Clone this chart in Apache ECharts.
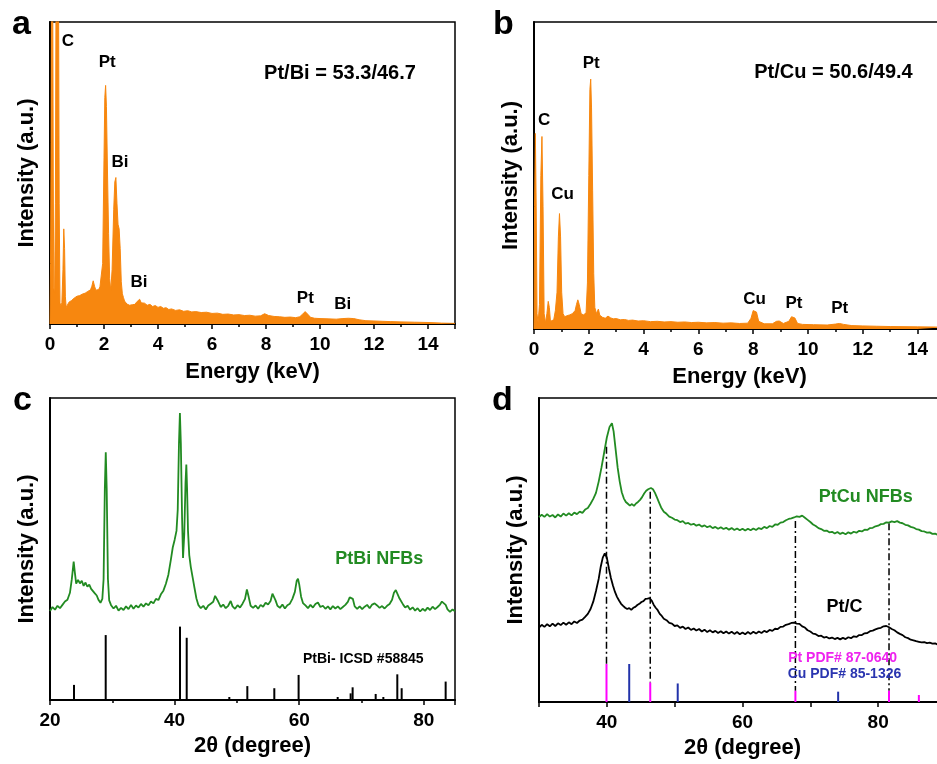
<!DOCTYPE html>
<html><head><meta charset="utf-8">
<script src="https://cdn.jsdelivr.net/npm/echarts@6/dist/echarts.min.js"></script>
<style>html,body{margin:0;padding:0;background:#fff}#c{width:937px;height:764px}</style>
</head><body><div id="c"></div>
<script>
// ---------- Panel a: EDS of PtBi NFBs  [keV, intensity(0-100)] ----------
const edsPtBi = [
[0.00,0],[0.02,20],[0.04,60],[0.06,130],[0.09,140],[0.12,50],[0.14,12],[0.17,10],[0.20,40],[0.23,130],[0.27,150],[0.31,130],
[0.34,40],[0.37,7],[0.40,6],[0.44,7],[0.48,18],[0.51,31.5],[0.54,25],[0.57,9],[0.60,5.5],[0.64,6],[0.70,7.2],[0.75,6.6],
[0.80,7.8],[0.85,7.4],[0.90,8.6],[0.95,8.1],[1.00,9.2],[1.05,8.6],[1.10,9.4],[1.15,9.0],[1.20,9.9],[1.25,9.5],[1.30,10.2],
[1.35,9.8],[1.40,10.8],[1.45,10.4],[1.50,11.3],[1.55,12.5],[1.60,14.3],[1.65,12.5],[1.70,11.2],[1.75,11.8],[1.80,11.4],
[1.85,12.3],[1.90,12.8],[1.95,20],[2.00,55],[2.03,75],[2.06,79],[2.09,72],[2.13,50],[2.17,30],[2.21,15],[2.25,11],
[2.30,18],[2.36,38],[2.40,47],[2.44,48.5],[2.48,40],[2.52,33],[2.56,31.5],[2.60,25],[2.64,14],[2.68,10],[2.72,8.8],
[2.76,7.6],[2.80,8.2],[2.85,6.6],[2.90,7.0],[2.95,6.2],[3.00,6.8],[3.05,6.4],[3.10,7.0],[3.15,6.5],[3.20,7.2],[3.25,7.4],
[3.32,8.2],[3.38,7.0],[3.45,6.6],[3.50,6.9],[3.60,6.2],[3.70,6.5],[3.80,5.8],[3.90,6.1],[4.00,5.5],[4.10,5.8],[4.20,5.2],
[4.30,5.4],[4.40,4.8],[4.50,5.0],[4.65,4.5],[4.80,4.7],[4.95,4.2],[5.10,4.4],[5.25,4.0],[5.40,4.1],[5.60,3.8],[5.80,3.9],
[6.00,3.5],[6.20,3.6],[6.40,3.2],[6.60,3.3],[6.80,3.0],[7.00,3.1],[7.20,2.8],[7.40,2.9],[7.60,2.6],[7.80,2.7],[7.95,3.4],
[8.02,3.6],[8.10,2.8],[8.30,2.5],[8.50,2.4],[8.70,2.2],[8.90,2.3],[9.10,2.1],[9.25,2.4],[9.35,3.2],[9.45,4.1],[9.55,3.2],
[9.65,2.2],[9.80,1.9],[10.00,1.8],[10.30,1.7],[10.60,1.6],[10.85,1.8],[11.05,1.9],[11.25,1.8],[11.45,1.4],[11.70,1.1],
[12.00,1.0],[12.30,0.9],[12.60,0.8],[13.00,0.7],[13.50,0.6],[14.00,0.5],[14.50,0.3],[15.00,0.2]
];
const labelsA = [[0.667,93.6,'C'],[2.12,86.6,'Pt'],[2.593,53.6,'Bi'],[3.296,13.9,'Bi'],[9.456,8.4,'Pt'],[10.84,6.6,'Bi']];
const ratioA = [10.74,83.1,'Pt/Bi = 53.3/46.7'];

// ---------- Panel b: EDS of PtCu NFBs ----------
const edsPtCu = [
[0.00,0],[0.02,40],[0.05,63.7],[0.08,40],[0.11,5],[0.15,2],[0.20,8],[0.25,50],[0.29,62.7],[0.33,40],[0.37,5],[0.42,2],
[0.47,5],[0.52,9],[0.56,7],[0.60,2.5],[0.66,2],[0.72,3],[0.78,6],[0.84,12],[0.89,30],[0.93,37.6],[0.97,30],[1.01,12],
[1.06,5],[1.12,4],[1.20,4.3],[1.30,4.6],[1.40,5],[1.50,6],[1.55,8],[1.60,9.5],[1.65,8],[1.72,5],[1.80,4.6],[1.90,5.2],
[1.95,15],[2.00,50],[2.04,78],[2.07,81.4],[2.10,72],[2.14,45],[2.18,18],[2.22,7],[2.28,5],[2.35,6.5],[2.40,4.5],[2.50,3.8],
[2.60,3.5],[2.70,4.2],[2.80,3.6],[2.90,3.3],[3.00,3.4],[3.15,3.0],[3.30,3.1],[3.45,2.8],[3.60,2.9],[3.80,2.6],[4.00,2.7],
[4.25,2.4],[4.50,2.5],[4.75,2.3],[5.00,2.4],[5.25,2.2],[5.50,2.3],[5.75,2.1],[6.00,2.2],[6.30,2.0],[6.60,2.1],[6.90,1.9],
[7.20,2.0],[7.50,1.8],[7.80,1.9],[7.92,3.5],[8.00,6.0],[8.05,6.5],[8.12,5.5],[8.20,2.5],[8.40,1.7],[8.70,1.7],[8.85,2.5],
[8.95,2.6],[9.10,1.8],[9.30,2.5],[9.40,4.0],[9.45,4.2],[9.52,3.6],[9.62,1.8],[9.80,1.5],[10.20,1.4],[10.70,1.3],[11.00,1.6],
[11.15,1.8],[11.30,1.5],[11.60,1.1],[12.00,1.0],[12.50,0.9],[13.00,0.8],[14.00,0.7],[15.00,0.6]
];
const labelsB = [[0.372,67.9,'C'],[1.04,43.8,'Cu'],[2.09,86.4,'Pt'],[8.05,9.8,'Cu'],[9.49,8.5,'Pt'],[11.16,6.7,'Pt']];
const ratioB = [10.93,83.6,'Pt/Cu = 50.6/49.4'];

// ---------- Panel c: XRD of PtBi NFBs [2theta, intensity] ----------
const xrdPtBi = [
[20.0,29.5],[20.4,30.8],[20.8,29.9],[21.2,31.2],[21.6,30.4],[22.0,31.5],[22.4,32.6],[22.8,33.2],[23.2,35.5],[23.5,40],
[23.8,45.8],[24.0,42],[24.2,38.5],[24.5,39.8],[24.8,38.6],[25.1,39.5],[25.4,37.8],[25.7,38.9],[26.0,37.5],[26.3,38.2],
[26.6,36.8],[26.9,37.4],[27.2,35.3],[27.5,34.6],[27.8,33.1],[28.1,32.2],[28.4,33.5],[28.6,40],[28.8,70],[28.95,82],
[29.1,70],[29.3,40],[29.5,33],[29.8,31.4],[30.2,30.3],[30.6,31.2],[31.0,29.6],[31.4,30.5],[31.8,29.8],[32.2,31.0],
[32.6,30.1],[33.0,31.5],[33.4,30.2],[33.8,31.3],[34.2,30.6],[34.6,31.8],[35.0,30.9],[35.4,32.0],[35.8,31.4],[36.2,32.6],
[36.6,32.0],[37.0,33.5],[37.4,33.1],[37.8,35.0],[38.2,36.2],[38.6,38.5],[39.0,41.5],[39.4,46.5],[39.7,50.5],[40.0,53],
[40.3,56],[40.5,63],[40.7,85],[40.85,95],[41.0,85],[41.2,60],[41.35,47],[41.55,55],[41.75,72],[41.88,78],[42.0,70],
[42.15,56],[42.35,48],[42.6,44],[42.9,40.5],[43.2,37],[43.5,33.6],[43.8,31.5],[44.2,30.4],[44.6,31.2],[45.0,30.0],
[45.4,31.3],[45.8,31.9],[46.2,32.5],[46.5,34.5],[46.75,34.8],[47.0,32.6],[47.4,30.8],[47.8,31.6],[48.2,30.4],[48.6,31.2],
[49.0,32.8],[49.3,31.0],[49.7,30.2],[50.1,31.4],[50.5,30.6],[50.9,31.9],[51.3,33.5],[51.6,36.6],[51.9,34.0],[52.2,31.2],
[52.6,30.5],[53.0,31.3],[53.4,30.2],[53.8,31.5],[54.2,30.9],[54.6,32.2],[55.0,31.6],[55.4,32.8],[55.7,35.2],[55.95,35.5],
[56.2,33.0],[56.5,31.2],[56.9,30.5],[57.3,31.6],[57.7,30.3],[58.1,31.4],[58.5,31.9],[58.9,33.5],[59.3,35.8],[59.6,39.5],
[59.8,40.2],[60.0,38.3],[60.3,34.2],[60.6,32.1],[61.0,31.3],[61.4,30.4],[61.8,31.5],[62.2,30.6],[62.6,31.8],[63.0,32.3],
[63.4,30.8],[63.8,31.2],[64.2,30.2],[64.6,31.0],[65.0,30.0],[65.4,31.1],[65.8,30.3],[66.2,31.0],[66.6,30.1],[67.0,30.8],
[67.4,31.5],[67.8,32.5],[68.1,34.0],[68.35,34.4],[68.6,33.5],[68.9,31.0],[69.3,30.2],[69.7,31.0],[70.1,30.1],[70.5,30.9],
[70.9,31.5],[71.3,30.4],[71.7,31.6],[72.1,32.0],[72.5,31.3],[72.9,30.5],[73.3,31.1],[73.7,30.3],[74.1,31.2],[74.5,31.8],
[74.9,33.2],[75.2,35.5],[75.5,36.4],[75.8,35.0],[76.1,33.6],[76.4,34.0],[76.7,31.5],[77.0,30.6],[77.4,31.2],[77.8,29.9],
[78.2,30.7],[78.6,29.6],[79.0,30.4],[79.4,29.3],[79.8,30.2],[80.2,29.5],[80.6,30.6],[81.0,29.8],[81.4,30.9],[81.8,30.1],
[82.2,30.8],[82.6,31.6],[82.9,32.6],[83.2,32.9],[83.5,31.5],[83.8,30.0],[84.2,29.2],[84.6,30.0],[85.0,29.4]
];
const refPtBi = [[23.85,5.0],[28.94,21.5],[40.86,24.3],[41.94,20.6],[48.78,1.0],[51.67,4.6],[56.0,3.9],[59.9,8.3],
[66.17,1.0],[68.25,2.2],[68.57,4.2],[72.27,2.0],[73.5,1.0],[75.74,8.5],[76.44,3.9],[83.5,6.1]];
const labelPtBi = [72.83,46.8,'PtBi NFBs'];
const labelICSD = [70.28,13.4,'PtBi- ICSD #58845'];

// ---------- Panel d: XRD of PtCu NFBs and Pt/C ----------
const xrdPtCu = [
[30.0,60.8],[30.4,61.6],[30.8,60.9],[31.2,61.8],[31.6,61.0],[32.0,61.5],[32.4,60.7],[32.8,61.7],[33.2,61.0],[33.6,62.0],
[34.0,61.3],[34.4,62.1],[34.8,61.4],[35.2,62.3],[35.6,61.8],[36.0,62.6],[36.4,62.2],[36.8,63.3],[37.2,63.8],[37.6,65.2],
[38.0,66.8],[38.4,68.8],[38.8,72.5],[39.2,77],[39.6,82],[40.0,87],[40.4,90.5],[40.75,91.7],[41.0,89],[41.3,83],[41.6,77],
[41.9,72.5],[42.2,69],[42.5,67],[42.8,65.8],[43.1,65.2],[43.4,64.6],[43.7,65.1],[44.0,64.5],[44.3,65.3],[44.6,65.8],
[44.9,66.5],[45.2,67.4],[45.5,68.6],[45.8,69.5],[46.1,70.0],[46.5,70.4],[46.8,70.0],[47.1,68.8],[47.4,67.2],[47.7,65.6],
[48.0,64.0],[48.4,62.6],[48.8,61.9],[49.2,61.0],[49.6,60.6],[50.0,60.0],[50.4,59.8],[50.8,59.2],[51.2,59.5],[51.6,58.7],
[52.0,58.9],[52.4,58.3],[52.8,58.6],[53.2,58.0],[53.6,58.4],[54.0,57.7],[54.4,58.1],[54.8,57.5],[55.2,57.9],[55.6,57.2],
[56.0,57.6],[56.4,57.0],[56.8,57.5],[57.2,56.9],[57.6,57.3],[58.0,56.7],[58.4,57.2],[58.8,56.6],[59.2,57.1],[59.6,56.5],
[60.0,57.0],[60.4,56.4],[60.8,57.0],[61.2,56.5],[61.6,57.1],[62.0,56.6],[62.4,57.2],[62.8,56.9],[63.2,57.6],[63.6,57.2],
[64.0,57.9],[64.4,57.6],[64.8,58.4],[65.2,58.3],[65.6,59.0],[66.0,59.2],[66.4,59.8],[66.8,60.2],[67.2,60.4],[67.6,60.7],
[68.0,61.1],[68.4,60.9],[68.8,61.3],[69.2,60.6],[69.6,59.9],[70.0,59.2],[70.4,58.4],[70.8,57.9],[71.2,57.2],[71.6,56.9],
[72.0,56.3],[72.4,56.4],[72.8,55.8],[73.2,56.0],[73.6,55.4],[74.0,55.9],[74.4,55.3],[74.8,55.7],[75.2,55.2],[75.6,55.8],
[76.0,55.4],[76.4,56.0],[76.8,55.7],[77.2,56.3],[77.6,56.1],[78.0,56.7],[78.4,56.6],[78.8,57.2],[79.2,57.3],[79.6,57.8],
[80.0,58.0],[80.4,58.5],[80.8,58.6],[81.2,59.1],[81.6,59.0],[82.0,59.4],[82.4,59.2],[82.8,59.5],[83.2,59.0],[83.6,58.8],
[84.0,58.3],[84.4,58.1],[84.8,57.6],[85.2,57.4],[85.6,56.9],[86.0,56.7],[86.4,56.2],[86.8,56.1],[87.2,55.7],[87.6,55.8],
[88.0,55.3],[88.4,55.4],[88.8,55.0],[89.2,55.2],[89.6,54.8],[90.0,55.0]
];
const xrdPtC = [
[30.0,24.5],[30.4,25.4],[30.8,24.7],[31.2,25.6],[31.6,24.9],[32.0,25.8],[32.4,25.0],[32.8,25.9],[33.2,25.3],[33.6,26.1],
[34.0,25.4],[34.4,26.2],[34.8,25.6],[35.2,26.5],[35.6,26.0],[36.0,26.8],[36.4,27.1],[36.8,28.0],[37.2,29.0],[37.6,30.6],
[38.0,33.0],[38.4,36.5],[38.8,40.5],[39.1,44.5],[39.4,47.5],[39.7,48.9],[40.0,47.5],[40.3,44],[40.6,40.8],[40.9,38.3],
[41.2,36.2],[41.5,34.6],[41.8,33.4],[42.1,32.3],[42.4,31.6],[42.7,31.0],[43.0,30.6],[43.3,30.9],[43.6,30.3],[43.9,31.0],
[44.2,31.3],[44.5,31.9],[44.8,32.3],[45.1,32.9],[45.4,33.2],[45.7,33.9],[46.0,34.0],[46.3,34.2],[46.6,33.4],[46.9,32.0],
[47.2,31.0],[47.5,30.2],[47.8,29.0],[48.1,28.3],[48.4,27.4],[48.8,26.9],[49.2,26.0],[49.6,25.8],[50.0,25.0],[50.4,25.2],
[50.8,24.4],[51.2,24.8],[51.6,24.0],[52.0,24.5],[52.4,23.7],[52.8,24.2],[53.2,23.5],[53.6,24.0],[54.0,23.2],[54.4,23.8],
[54.8,23.0],[55.2,23.6],[55.6,22.9],[56.0,23.4],[56.4,22.7],[56.8,23.3],[57.2,22.6],[57.6,23.2],[58.0,22.5],[58.4,23.1],
[58.8,22.4],[59.2,23.0],[59.6,22.3],[60.0,22.9],[60.4,22.3],[60.8,23.0],[61.2,22.4],[61.6,23.1],[62.0,22.5],[62.4,23.2],
[62.8,22.7],[63.2,23.4],[63.6,23.0],[64.0,23.7],[64.4,23.4],[64.8,24.1],[65.2,24.0],[65.6,24.7],[66.0,24.8],[66.4,25.4],
[66.8,25.6],[67.2,26.0],[67.6,26.1],[68.0,25.8],[68.4,25.7],[68.8,24.9],[69.2,24.5],[69.6,23.6],[70.0,23.2],[70.4,22.5],
[70.8,22.3],[71.2,21.7],[71.6,21.8],[72.0,21.2],[72.4,21.4],[72.8,20.9],[73.2,21.2],[73.6,20.7],[74.0,21.1],[74.4,20.6],
[74.8,21.1],[75.2,20.7],[75.6,21.3],[76.0,21.0],[76.4,21.6],[76.8,21.4],[77.2,22.0],[77.6,22.0],[78.0,22.6],[78.4,22.7],
[78.8,23.3],[79.2,23.5],[79.6,23.9],[80.0,24.2],[80.4,24.4],[80.8,24.9],[81.2,25.0],[81.6,24.6],[82.0,24.0],[82.4,23.6],
[82.8,22.9],[83.2,22.4],[83.6,22.0],[84.0,21.3],[84.4,21.0],[84.8,20.5],[85.2,20.3],[85.6,20.0],[86.0,19.8],[86.4,19.6],
[86.8,19.7],[87.2,19.4],[87.6,19.5],[88.0,19.2],[88.4,19.3],[88.8,18.9],[89.2,19.1],[89.6,18.7],[90.0,18.8]
];
const refPt = [[39.95,12.5],[46.4,6.4],[67.8,3.7],[81.6,3.7],[86.0,2.3]];
const refCu = [[43.3,12.5],[50.45,6.1],[74.1,3.4]];
const dropLines = [[39.95,84,12.5],[46.4,69.2,6.4],[67.8,59.5,3.7],[81.6,58.8,3.7]];
const labelsD = [[78.18,67.5,'PtCu NFBs','#228B22'],[75.04,31.3,'Pt/C','#000'],[74.76,14.3,'Pt PDF# 87-0640','#ee22ee'],[75.03,9.0,'Cu PDF# 85-1326','#2a35b0']];

// ---------- Axis ticks ----------
const energyTicks = [0,2,4,6,8,10,12,14];
const thetaTicksC = [20,40,60,80];
const thetaTicksD = [40,60,80];

const FONT = "'Liberation Sans', Arial, sans-serif";
const ORANGE = '#F7870F';
const GREEN = '#228B22';

const chart = echarts.init(document.getElementById('c'), null, {renderer:'canvas'});

const grids = [
  {left:50, top:22, width:405, height:302},
  {left:534, top:22, width:411, height:307},
  {left:50, top:398, width:405, height:302},
  {left:539, top:398, width:407, height:304}
].map(g => Object.assign({show:true, borderColor:'#000', borderWidth:1.5, backgroundColor:'transparent',
  containLabel:false, outerBoundsMode:'none'}, g));

function xAx(i, min, max, interval, ticks, name, nameGap, margin){
  return {type:'value', gridIndex:i, min, max, interval, position:'bottom',
    axisLine:{show:true, onZero:false, lineStyle:{color:'#000', width:2}},
    axisTick:{show:true, inside:false, length:5, lineStyle:{color:'#000', width:1.5}},
    minorTick:{show:true, splitNumber: (interval===10?1:2), length:3, lineStyle:{color:'#000', width:1.5}},
    splitLine:{show:false}, minorSplitLine:{show:false},
    axisLabel:{show:true, margin, color:'#000', fontFamily:FONT, fontWeight:'bold', fontSize:19,
      hideOverlap:false, formatter: v => ticks.indexOf(v) >= 0 ? String(v) : ''},
    name, nameLocation:'middle', nameGap,
    nameTextStyle:{color:'#000', fontFamily:FONT, fontWeight:'bold', fontSize:22}};
}
function yAx(i){
  return {type:'value', gridIndex:i, min:0, max:100,
    axisLine:{show:true, onZero:false, lineStyle:{color:'#000', width:2}},
    axisTick:{show:false}, axisLabel:{show:false}, splitLine:{show:false},
    name:'Intensity (a.u.)', nameLocation:'middle', nameGap:12,
    nameTextStyle:{color:'#000', fontFamily:FONT, fontWeight:'bold', fontSize:22}};
}

function sticks(i, data, color, width){
  return {type:'custom', xAxisIndex:i, yAxisIndex:i, data, clip:true, silent:true, encode:{x:0, y:1},
    renderItem:(p, api) => {
      const a = api.coord([api.value(0), 0]); const b = api.coord([api.value(0), api.value(1)]);
      return {type:'line', shape:{x1:a[0], y1:a[1], x2:b[0], y2:b[1]}, style:{stroke:color, lineWidth:width}};
    }};
}
function dashLines(i, data){
  return {type:'custom', xAxisIndex:i, yAxisIndex:i, data, clip:true, silent:true, encode:{x:0, y:[1,2]},
    renderItem:(p, api) => {
      const a = api.coord([api.value(0), api.value(1)]); const b = api.coord([api.value(0), api.value(2)]);
      return {type:'line', shape:{x1:a[0], y1:a[1], x2:b[0], y2:b[1]},
        style:{stroke:'#000', lineWidth:1.5, lineDash:[7,3,2,3]}};
    }};
}
function textSeries(i, items, size, color){
  return {type:'scatter', xAxisIndex:i, yAxisIndex:i, symbolSize:1, silent:true, z:5,
    itemStyle:{color:'transparent', opacity:1},
    data: items.map(t => ({value:[t[0], t[1]], label:{show:true, position:'inside', formatter:t[2],
      color: t[3] || color, opacity:1, textBorderWidth:0, fontFamily:FONT, fontWeight:'bold', fontSize:size}}))};
}
function eds(i, data){
  return {type:'line', xAxisIndex:i, yAxisIndex:i, data, symbol:'none', clip:true, silent:true,
    lineStyle:{color:ORANGE, width:1}, areaStyle:{color:ORANGE, opacity:1, origin:'start'}};
}
function xrd(i, data, color){
  return {type:'line', xAxisIndex:i, yAxisIndex:i, data, symbol:'none', clip:true, silent:true,
    lineStyle:{color, width:1.8}};
}

const option = {
  animation:false,
  backgroundColor:'#fff',
  grid: grids,
  xAxis: [
    xAx(0, 0, 15, 2, energyTicks, 'Energy (keV)', 37, 11),
    xAx(1, 0, 15, 2, energyTicks, 'Energy (keV)', 37, 11),
    xAx(2, 20, 85, 20, thetaTicksC, '2θ (degree)', 35, 11),
    xAx(3, 30, 90, 10, thetaTicksD, '2θ (degree)', 35, 11)
  ],
  yAxis: [yAx(0), yAx(1), yAx(2), yAx(3)],
  series: [
    eds(0, edsPtBi),
    textSeries(0, labelsA, 17, '#000'),
    textSeries(0, [ratioA], 20, '#000'),
    eds(1, edsPtCu),
    textSeries(1, labelsB, 17, '#000'),
    textSeries(1, [ratioB], 20, '#000'),
    xrd(2, xrdPtBi, GREEN),
    sticks(2, refPtBi, '#000', 2),
    textSeries(2, [labelPtBi], 18, '#228B22'),
    textSeries(2, [labelICSD], 14, '#000'),
    dashLines(3, dropLines),
    xrd(3, xrdPtCu, GREEN),
    xrd(3, xrdPtC, '#000'),
    sticks(3, refPt, '#ff00ff', 2),
    sticks(3, refCu, '#2233aa', 2),
    textSeries(3, labelsD.slice(0,2), 18, '#000'),
    textSeries(3, labelsD.slice(2), 14, '#000')
  ],
  graphic: [
    {type:'text', left:12, top:8, style:{text:'a', font:'bold 34px ' + FONT, fill:'#000'}},
    {type:'text', left:493, top:8, style:{text:'b', font:'bold 34px ' + FONT, fill:'#000'}},
    {type:'text', left:13, top:384, style:{text:'c', font:'bold 34px ' + FONT, fill:'#000'}},
    {type:'text', left:492, top:384, style:{text:'d', font:'bold 34px ' + FONT, fill:'#000'}}
  ]
};
chart.setOption(option);
</script>
</body></html>
